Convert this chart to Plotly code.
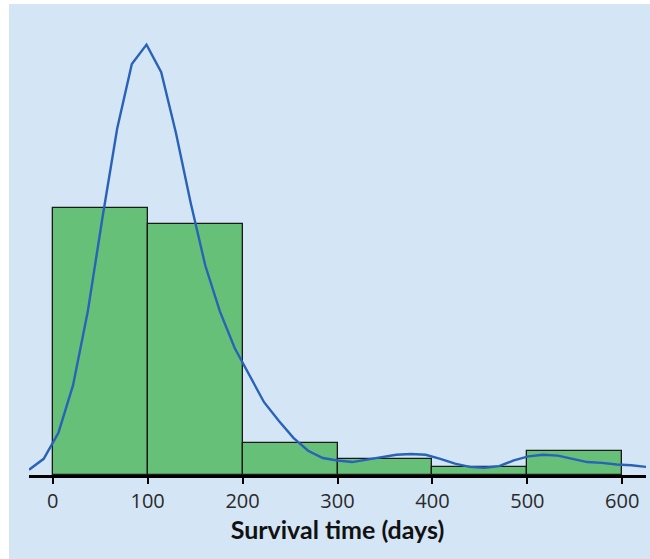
import numpy as np
import plotly.graph_objects as go

# Histogram: bin edges (days) and counts
bin_left = [0, 100, 200, 300, 400, 500]
bin_width = 100
counts = [33, 31, 4, 2, 1, 3]

# Density curve (scaled to counts), evaluated on an even grid from -25 to 625 days
curve_x = list(np.linspace(-25, 625, 43))
curve_y = [0.65, 2.0, 5.2, 11.1, 20.2, 31.8, 42.8, 50.8, 53.2, 49.8,
           42.3, 33.7, 25.9, 20.2, 15.7, 12.3, 9.0, 6.7, 4.6, 3.0,
           2.1, 1.8, 1.6, 1.9, 2.2, 2.5, 2.6, 2.5, 2.0, 1.4,
           1.0, 0.9, 1.1, 1.8, 2.3, 2.5, 2.4, 2.0, 1.6, 1.5,
           1.3, 1.2, 1.0]

tick_vals = [0, 100, 200, 300, 400, 500, 600]
tick_text = ["0", "100", "200", "300", "400", "500", "600"]
x_title = "Survival time (days)"

BG = "#d4e5f5"

fig = go.Figure()
fig.add_trace(go.Bar(
    x=[b + bin_width / 2 for b in bin_left], y=counts, width=bin_width,
    marker=dict(color="#66c078", line=dict(color="#1a1a1a", width=1.3)),
    hoverinfo="skip", showlegend=False))
fig.add_trace(go.Scatter(
    x=curve_x, y=curve_y, mode="lines",
    line=dict(color="#2a62b8", width=2.4), showlegend=False, cliponaxis=False))

fig.update_layout(
    width=650, height=559,
    margin=dict(l=29, r=4, t=22, b=84),
    paper_bgcolor="white", plot_bgcolor=BG,
    bargap=0,
    xaxis=dict(range=[-25, 625], tickvals=tick_vals, ticktext=tick_text,
               showgrid=False, zeroline=False, showline=True,
               linecolor="black", linewidth=3, ticks="outside",
               ticklen=6, tickwidth=2, tickcolor="black",
               tickfont=dict(family="Open Sans", size=20, color="#2a2a2a"),
               title=dict(text="<b>" + x_title + "</b>", standoff=8,
                          font=dict(family="Lato", size=25, color="#111"))),
    yaxis=dict(range=[0, 56], visible=False, showgrid=False),
    shapes=[dict(type="rect", xref="paper", yref="paper",
                 x0=-0.0324, x1=1.01, y0=-0.2, y1=1.0397,
                 fillcolor=BG, line=dict(width=0), layer="below")],
)

fig.write_html("out.html", config={"displayModeBar": False},
               post_script="document.body.style.margin='0';document.body.style.overflow='hidden';")
